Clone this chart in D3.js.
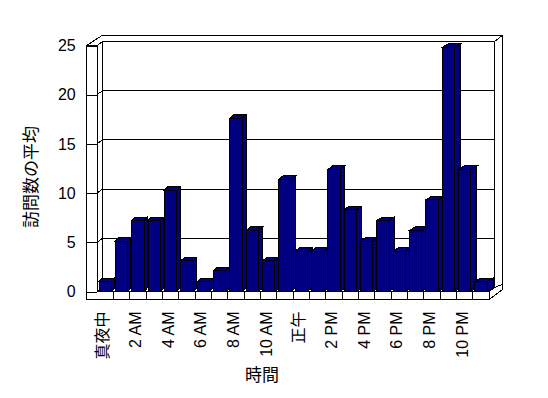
<!DOCTYPE html>
<html lang="ja">
<head>
<meta charset="UTF-8">
<title>訪問数の平均</title>
<script src="https://d3js.org/d3.v7.min.js"></script>
<style>
  body { margin: 0; background: #fff; }
  svg text { font-family: "Liberation Sans", "Noto Sans CJK JP", sans-serif; fill: #000; }
  .frame { fill: #fff; stroke: #000; stroke-width: 1; shape-rendering: crispEdges; }
  .edge { stroke: #000; stroke-width: 1; fill: none; shape-rendering: crispEdges; }
  .bar { fill: #000080; stroke: #000; stroke-width: 1; shape-rendering: crispEdges; }
</style>
</head>
<body>
<div id="chart"></div>
<script>
// hours of the day
var categories = ["真夜中", "1 AM", "2 AM", "3 AM", "4 AM", "5 AM", "6 AM", "7 AM",
  "8 AM", "9 AM", "10 AM", "11 AM", "正午", "1 PM", "2 PM", "3 PM", "4 PM", "5 PM",
  "6 PM", "7 PM", "8 PM", "9 PM", "10 PM", "11 PM"];
// average visits per hour
var visits = [1.0, 5.1, 7.2, 7.2, 10.3, 3.1, 1.0, 2.1, 17.6, 6.2, 3.1, 11.4,
  4.1, 4.1, 12.4, 8.3, 5.1, 7.2, 4.1, 6.2, 9.3, 24.8, 12.4, 1.0];
var yTicks = [0, 5, 10, 15, 20, 25];
var yTitle = "訪問数の平均";
var xTitle = "時間";

var width = 548, height = 398;

var svg = d3.select("#chart").append("svg")
    .attr("width", width)
    .attr("height", height);

// front plane of the plot
var x = d3.scaleBand().domain(categories).range([97, 489]);
var y = d3.scaleLinear().domain([0, 25]).range([291.5, 45.5]);

var x0 = x.range()[0], x1 = x.range()[1];
var yBase = y(0), yTop = y(25);
var dx = 5.5, dy = -4;        // depth of plot area
var wall = 10.3, floorT = 8;  // wall / floor thickness
var outX = 502, outTop = 35.7;

function pts(a) { return a.map(function(p) { return p.join(","); }).join(" "); }

// outer shell
svg.append("polygon").attr("class", "frame")
    .attr("points", pts([[x0 - wall, yTop], [x0 - wall + 15, outTop], [outX, outTop],
      [outX, yBase - 1.5], [x1, yBase + floorT], [x0 - wall, yBase + floorT]]));

// back wall front face
svg.append("rect").attr("class", "frame")
    .attr("x", x0 + dx).attr("y", yTop + dy)
    .attr("width", x1 - x0).attr("height", yBase - yTop);

// gridlines on back wall and left wall
var grid = svg.append("g");
yTicks.forEach(function(t) {
  grid.append("line").attr("class", "edge")
      .attr("x1", x0 + dx).attr("x2", x1 + dx)
      .attr("y1", y(t) + dy).attr("y2", y(t) + dy);
  grid.append("line").attr("class", "edge")
      .attr("x1", x0).attr("x2", x0 + dx)
      .attr("y1", y(t)).attr("y2", y(t) + dy);
});

// wall edges
var edges = [
  [[x0, yTop], [x0 + dx, yTop + dy]],
  [[x1 + dx, yTop + dy], [outX, outTop]],
  [[x0, yBase], [x0 + dx, yBase + dy]],
  [[x1, yBase], [x1 + dx, yBase + dy]],
  [[x1 + dx, yBase + dy], [outX, yBase - 7]]
];
edges.forEach(function(e) {
  svg.append("line").attr("class", "edge")
      .attr("x1", e[0][0]).attr("y1", e[0][1])
      .attr("x2", e[1][0]).attr("y2", e[1][1]);
});

// left wall front face + floor front face
svg.append("polygon").attr("class", "frame")
    .attr("points", pts([[x0 - wall, yTop], [x0, yTop], [x0, yBase], [x1, yBase],
      [x1, yBase + floorT], [x0 - wall, yBase + floorT]]));

// category ticks on floor front
x.domain().slice(1).forEach(function(c) {
  svg.append("line").attr("class", "edge")
      .attr("x1", x(c)).attr("x2", x(c))
      .attr("y1", yBase).attr("y2", yBase + floorT);
});

// bars
var bw = x.bandwidth();
var bars = svg.append("g");
categories.forEach(function(c, i) {
  var bx0 = x(c) + 2, bx1 = x(c) + bw - 2;
  var by = y(visits[i]);
  var sx = 3 + 3.2 * i / (categories.length - 1), sy = -3.5;
  var g = bars.append("g");
  g.append("polygon").attr("class", "bar")
      .attr("points", pts([[bx1, by], [bx1 + sx, by + sy], [bx1 + sx, yBase + sy], [bx1, yBase]]));
  g.append("polygon").attr("class", "bar")
      .attr("points", pts([[bx0, by], [bx0 + sx, by + sy], [bx1 + sx, by + sy], [bx1, by]]));
  g.append("rect").attr("class", "bar")
      .attr("x", bx0).attr("y", by)
      .attr("width", bx1 - bx0).attr("height", yBase - by);
});

// y axis
var yAxis = svg.append("g")
    .attr("transform", "translate(" + x0 + ",0)")
    .call(d3.axisLeft(y).tickValues(yTicks).tickSizeInner(wall).tickSizeOuter(0).tickPadding(11));
yAxis.select(".domain").remove();
yAxis.selectAll("line").attr("shape-rendering", "crispEdges");
yAxis.selectAll("text").style("font-size", "16px").attr("font-family", null);

// x axis labels (every other hour)
var xAxis = svg.append("g")
    .attr("transform", "translate(0," + yBase + ")")
    .call(d3.axisBottom(x).tickValues(categories.filter(function(d, i) { return i % 2 == 0; }))
      .tickSize(0));
xAxis.select(".domain").remove();
xAxis.selectAll("text")
    .style("font-size", "16px")
    .attr("font-family", null)
    .attr("x", 0).attr("y", 0).attr("dy", "0.35em")
    .attr("text-anchor", "end")
    .attr("transform", "translate(-2.5,20) rotate(-90)");

// titles
svg.append("text")
    .attr("transform", "translate(31,177) rotate(-90)")
    .attr("text-anchor", "middle").attr("dy", "0.35em")
    .style("font-size", "17px")
    .text(yTitle);
svg.append("text")
    .attr("x", 262).attr("y", 375)
    .attr("text-anchor", "middle").attr("dy", "0.35em")
    .style("font-size", "17px")
    .text(xTitle);
</script>
</body>
</html>
